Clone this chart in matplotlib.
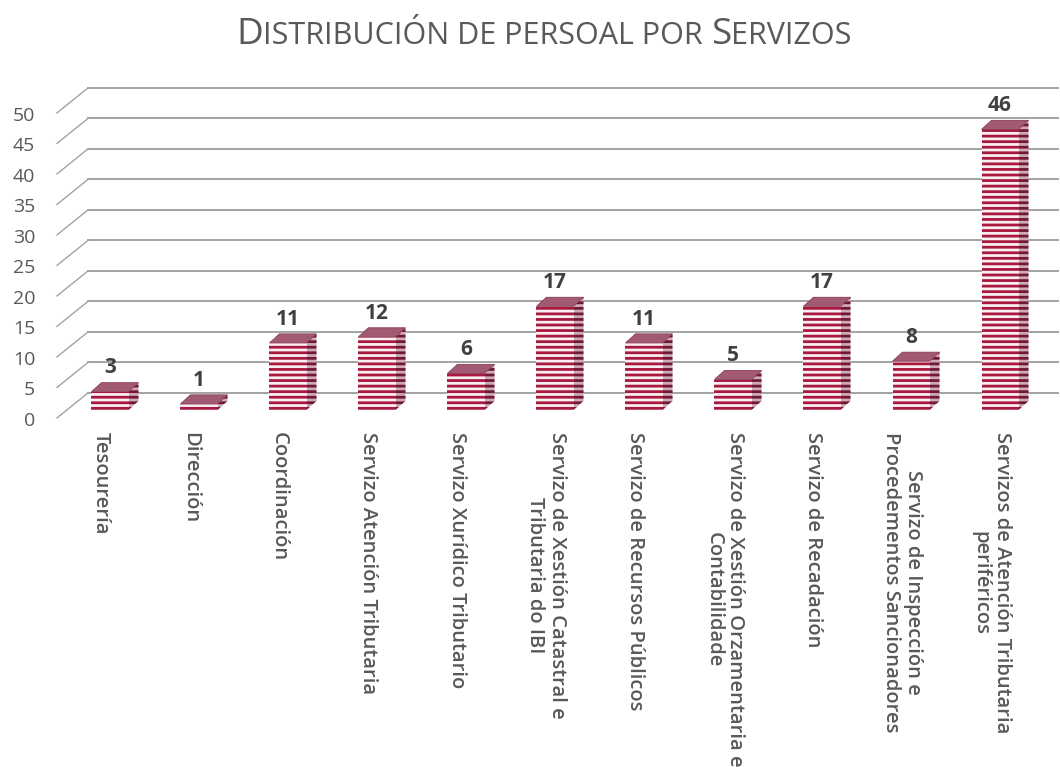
import matplotlib
matplotlib.use("Agg")
import matplotlib.pyplot as plt
from matplotlib.patches import Polygon

# Datos
servizos = [
    "Tesourería",
    "Dirección",
    "Coordinación",
    "Servizo Atención Tributaria",
    "Servizo Xurídico Tributario",
    "Servizo de Xestión Catastral e\nTributaria do IBI",
    "Servizo de Recursos Públicos",
    "Servizo de Xestión Orzamentaria e\nContabilidade",
    "Servizo de Recadación",
    "Servizo de Inspección e\nProcedementos Sancionadores",
    "Servizos de Atención Tributaria\nperiféricos",
]
persoal = [3, 1, 11, 12, 6, 17, 11, 5, 17, 8, 46]
ticks_y = [0, 5, 10, 15, 20, 25, 30, 35, 40, 45, 50]

# Estilo
fonte = "Open Sans"
gris_texto = "#595959"
cor_raia = "#a8183f"
cor_fondo = "#f9eef1"
cor_lado_raia = "#6e1a36"
cor_lado_fondo = "#cfa9b6"
cor_tapa = "#a25a74"
cor_grella = "#a3a3a3"

plt.rcParams["hatch.linewidth"] = 2.0

# xeometría pseudo-3D (en unidades de datos)
ancho = 0.416
prof_x, prof_y = 0.112, 1.48      # fondo das barras
muro_x0, muro_y = -0.247, 2.8     # parede do fondo
frente_x0, frente_y = -0.596, -1.3
fin_x = 10.65

fig = plt.figure(figsize=(10.6, 7.67), dpi=100)
ax = fig.add_axes([0, 0, 1, 1])
ax.set_xlim(-1.236, 10.674)
ax.set_ylim(-58.52, 67.21)
ax.axis("off")

# grella
for t in ticks_y:
    ax.plot([muro_x0, fin_x], [t + muro_y, t + muro_y], color=cor_grella, lw=1.4, zorder=1)
    ax.plot([frente_x0, muro_x0], [t + frente_y, t + muro_y], color=cor_grella, lw=1.0, zorder=1)
    ax.text(-0.84, t - 1.8, str(t), ha="right", va="center", fontsize=14,
            color=gris_texto, family=fonte)

# barras
xs = list(range(len(persoal)))
ax.bar(xs, persoal, width=ancho, bottom=0, facecolor=cor_fondo, edgecolor=cor_raia,
       hatch="---", linewidth=0, zorder=3)
for x, v in zip(xs, persoal):
    d = x + ancho / 2
    e = x - ancho / 2
    lado = Polygon([(d, 0), (d + prof_x, prof_y), (d + prof_x, v + prof_y), (d, v)],
                   closed=True, facecolor=cor_lado_fondo, edgecolor=cor_lado_raia,
                   hatch="---", linewidth=0, zorder=2.9)
    tapa = Polygon([(e, v), (d, v), (d + prof_x, v + prof_y), (e + prof_x, v + prof_y)],
                   closed=True, facecolor=cor_tapa, edgecolor="#8a3a55", linewidth=0.6,
                   zorder=3.1)
    ax.add_patch(lado)
    ax.add_patch(tapa)
    ax.text(x, v + 3.0, str(v), ha="center", va="baseline", fontsize=15,
            fontweight="bold", color="#404040", family=fonte, zorder=4)

# etiquetas das categorías
for x, nome in zip(xs, servizos):
    ax.text(x - 0.1, -3.6, nome, rotation=270, ha="center", va="top",
            multialignment="center", fontsize=14.5, fontweight="semibold",
            color=gris_texto, family=fonte, linespacing=1.1)

# título en versaletas
pezas = [("D", 26.5), ("ISTRIBUCIÓN DE PERSOAL POR ", 22), ("S", 26.5), ("ERVIZOS", 22)]
renderer = fig.canvas.get_renderer()
textos = []
xpos = 0
for txt, tam in pezas:
    t = fig.text(xpos / 1060, (767 - 44) / 767, txt, fontsize=tam, color=gris_texto,
                 family=fonte, va="baseline", ha="left")
    bb = t.get_window_extent(renderer)
    xpos += bb.width
    textos.append((t, bb.width))
inicio = 544 - xpos / 2
for t, w in textos:
    t.set_x(inicio / 1060)
    inicio += w

fig.savefig("out.png", dpi=100)
